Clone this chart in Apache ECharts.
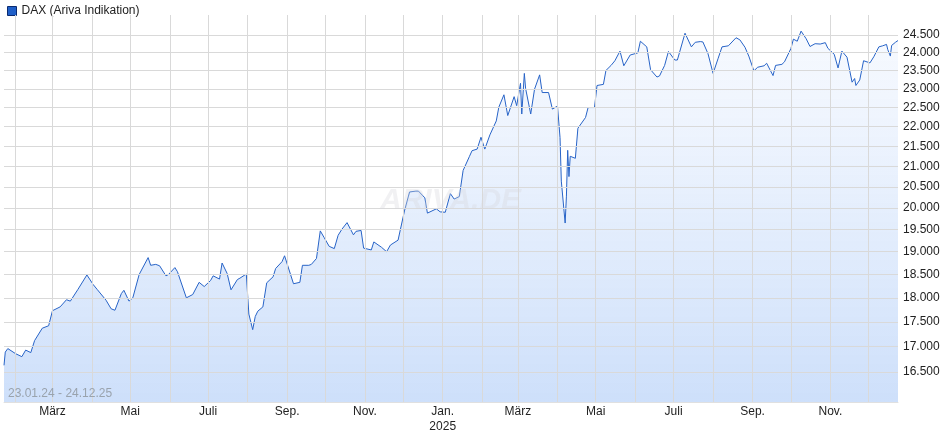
<!DOCTYPE html>
<html>
<head>
<meta charset="utf-8">
<script src="https://cdn.jsdelivr.net/npm/echarts@6/dist/echarts.min.js"></script>
<style>
html, body { margin: 0; padding: 0; background: #fff; }
#chart { width: 940px; height: 435px; }
</style>
</head>
<body>
<div id="chart"></div>
<script>
// DAX closes
var dates = [
    '2024-01-23','2024-01-24','2024-01-26','2024-02-01','2024-02-06','2024-02-09','2024-02-13','2024-02-16','2024-02-22','2024-02-27',
    '2024-03-01','2024-03-07','2024-03-12','2024-03-15','2024-03-21','2024-03-28','2024-04-02','2024-04-05','2024-04-12','2024-04-16',
    '2024-04-19','2024-04-24','2024-04-26','2024-04-30','2024-05-03','2024-05-08','2024-05-15','2024-05-17','2024-05-21','2024-05-24',
    '2024-05-29','2024-05-31','2024-06-05','2024-06-07','2024-06-14','2024-06-19','2024-06-24','2024-06-28','2024-07-03','2024-07-05',
    '2024-07-10','2024-07-12','2024-07-16','2024-07-19','2024-07-24','2024-07-26','2024-07-31','2024-08-02','2024-08-05','2024-08-07',
    '2024-08-09','2024-08-13','2024-08-16','2024-08-21','2024-08-23','2024-08-28','2024-08-30','2024-09-06','2024-09-11','2024-09-13',
    '2024-09-18','2024-09-20','2024-09-24','2024-09-27','2024-09-30','2024-10-04','2024-10-08','2024-10-11','2024-10-14','2024-10-18',
    '2024-10-23','2024-10-25','2024-10-29','2024-10-31','2024-11-06','2024-11-08','2024-11-14','2024-11-18','2024-11-21','2024-11-27',
    '2024-12-02','2024-12-06','2024-12-11','2024-12-13','2024-12-18','2024-12-20','2024-12-27','2024-12-30',
    '2025-01-03','2025-01-07','2025-01-10','2025-01-14','2025-01-17','2025-01-22','2025-01-24','2025-01-28','2025-01-31','2025-02-03',
    '2025-02-07','2025-02-12','2025-02-14','2025-02-18','2025-02-21','2025-02-26','2025-02-28','2025-03-03','2025-03-04','2025-03-06',
    '2025-03-07','2025-03-11','2025-03-14','2025-03-18','2025-03-20','2025-03-25','2025-03-28','2025-04-01','2025-04-03','2025-04-04',
    '2025-04-07','2025-04-08','2025-04-09','2025-04-10','2025-04-11','2025-04-15','2025-04-17','2025-04-23','2025-04-25','2025-04-30',
    '2025-05-02','2025-05-07','2025-05-09','2025-05-13','2025-05-16','2025-05-20','2025-05-23','2025-05-28','2025-06-03','2025-06-05',
    '2025-06-10','2025-06-13','2025-06-18','2025-06-20','2025-06-24','2025-06-27','2025-07-02','2025-07-04','2025-07-10','2025-07-15',
    '2025-07-18','2025-07-22','2025-07-24','2025-07-28','2025-08-01','2025-08-05','2025-08-08','2025-08-13','2025-08-19','2025-08-22',
    '2025-08-26','2025-08-29','2025-09-02','2025-09-05','2025-09-10','2025-09-12','2025-09-17','2025-09-19','2025-09-24','2025-09-26',
    '2025-10-01','2025-10-03','2025-10-06','2025-10-09','2025-10-13','2025-10-16','2025-10-20','2025-10-24','2025-10-28','2025-10-30',
    '2025-11-04','2025-11-07','2025-11-10','2025-11-14','2025-11-18','2025-11-20','2025-11-21','2025-11-24','2025-11-27','2025-12-02',
    '2025-12-05','2025-12-09','2025-12-12','2025-12-15','2025-12-16','2025-12-18','2025-12-19','2025-12-22','2025-12-24'
];
var closes = [
    16630,16890,16960,16860,16800,16930,16880,17120,17370,17420,
    17730,17810,17960,17930,18180,18490,18280,18180,17950,17770,
    17740,18090,18160,17930,18000,18500,18870,18700,18720,18690,
    18470,18500,18650,18560,18000,18070,18330,18240,18370,18470,
    18400,18750,18520,18170,18390,18420,18510,17660,17340,17610,
    17720,17810,18320,18450,18630,18780,18910,18300,18330,18700,
    18700,18720,18850,19470,19320,19120,19070,19370,19510,19660,
    19380,19460,19480,19080,19040,19220,19100,19000,19150,19260,
    19930,20380,20400,20400,20240,19880,19980,19910,
    19900,20340,20210,20270,20900,21250,21390,21430,21730,21430,
    21790,22150,22510,22840,22290,22790,22550,23150,22330,23420,
    23010,22330,22990,23380,22900,22900,22460,22540,21720,20640,
    19650,20280,21400,20750,21250,21200,21960,22240,22500,22500,
    23090,23120,23500,23640,23770,24040,23630,23930,23990,24320,
    24160,23520,23320,23350,23640,24030,23790,23790,24550,24160,
    24290,24310,24300,23970,23420,23840,24160,24190,24420,24360,
    24150,23900,23490,23590,23630,23700,23360,23640,23670,23740,
    24110,24380,24320,24610,24390,24170,24250,24240,24280,24120,
    23950,23570,24040,23870,23180,23280,23090,23240,23770,23710,
    23880,24160,24190,24230,24080,23900,24200,24290,24340
];
var priceTicks = [16500,17000,17500,18000,18500,19000,19500,20000,20500,21000,21500,22000,22500,23000,23500,24000,24500];
var monthStarts = [
    '2024-02-01','2024-03-01','2024-04-01','2024-05-01','2024-06-01','2024-07-01','2024-08-01','2024-09-01','2024-10-01','2024-11-01','2024-12-01',
    '2025-01-01','2025-02-01','2025-03-01','2025-04-01','2025-05-01','2025-06-01','2025-07-01','2025-08-01','2025-09-01','2025-10-01','2025-11-01','2025-12-01'
];
var monthNames = ['Jan.','Feb.','März','Apr.','Mai','Juni','Juli','Aug.','Sep.','Okt.','Nov.','Dez.'];

function ts(s) { return new Date(s + 'T00:00:00Z').getTime(); }
function fmt(v) { return String(v).replace(/\B(?=(\d{3})+(?!\d))/g, '.'); }
function monthLabel(v) {
    var d = new Date(v);
    var m = d.getUTCMonth();
    if (m % 2 !== 0) return '';  // only every second month is labelled
    return m === 0 ? monthNames[m] + '\n' + d.getUTCFullYear() : monthNames[m];
}

var chart = echarts.init(document.getElementById('chart'));
var font = 'Liberation Sans, Arial, sans-serif';

chart.setOption({
    animation: false,
    textStyle: { fontFamily: font },
    grid: { left: 4, right: 42, top: 15, bottom: 33 },
    legend: {
        left: 2, top: 0, itemWidth: 9, itemHeight: 9, itemGap: 4,
        icon: 'rect',
        textStyle: { fontSize: 12, color: '#222', fontFamily: font },
        data: [{ name: 'DAX (Ariva Indikation)', itemStyle: { color: '#1f5fc8', borderColor: '#0a2a70', borderWidth: 1 } }]
    },
    graphic: [
        { type: 'text', left: 8, top: 388, z: 10, style: { text: '23.01.24 - 24.12.25', fill: '#9aa3ad', font: '12px ' + font } },
        { type: 'text', left: 380, top: 186, z: 10, style: { text: 'ARIVA.DE', fill: 'rgba(215,215,220,0.35)', font: 'italic bold 30px ' + font } }
    ],
    xAxis: {
        type: 'time',
        min: ts(dates[0]),
        max: ts(dates[dates.length - 1]),
        axisLine: { lineStyle: { color: '#e0e0e0' } },
        axisTick: { show: false },
        axisLabel: { show: false },
        splitLine: { show: false }
    },
    yAxis: {
        type: 'log',
        min: 15930,
        max: 25080,
        position: 'right',
        axisLine: { show: false },
        axisTick: { show: false },
        axisLabel: { show: false },
        splitLine: { show: false }
    },
    series: [
        {
            // vertical month grid lines with month labels below
            type: 'line',
            data: [],
            markLine: {
                silent: true, symbol: 'none', animation: false,
                lineStyle: { color: '#d9d9d9', type: 'solid', width: 1 },
                label: {
                    position: 'start', color: '#222', fontSize: 12, fontFamily: font, distance: 2,
                    lineHeight: 15,
                    formatter: function (p) { return monthLabel(p.value); }
                },
                data: monthStarts.map(function (m) { return { xAxis: ts(m) }; })
            }
        },
        {
            name: 'DAX (Ariva Indikation)',
            type: 'line',
            showSymbol: false,
            symbol: 'none',
            data: dates.map(function (d, i) { return [ts(d), closes[i]]; }),
            lineStyle: { color: '#2763c7', width: 1 },
            itemStyle: { color: '#1f5fc8' },
            areaStyle: {
                origin: 'start',
                color: new echarts.graphic.LinearGradient(0, 0, 0, 1, [
                    { offset: 0, color: 'rgba(238,244,254,0.7)' },
                    { offset: 1, color: 'rgba(178,206,248,0.92)' }
                ])
            },
            markLine: {
                silent: true, symbol: 'none', animation: false,
                lineStyle: { color: '#d9d9d9', type: 'solid', width: 1 },
                label: {
                    position: 'end', color: '#222', fontSize: 12, fontFamily: font, distance: 5,
                    formatter: function (p) { return fmt(p.value); }
                },
                data: priceTicks.map(function (v) { return { yAxis: v }; })
            },
            z: 3
        }
    ]
});

window.onresize = function () { chart.resize(); };
</script>
</body>
</html>
